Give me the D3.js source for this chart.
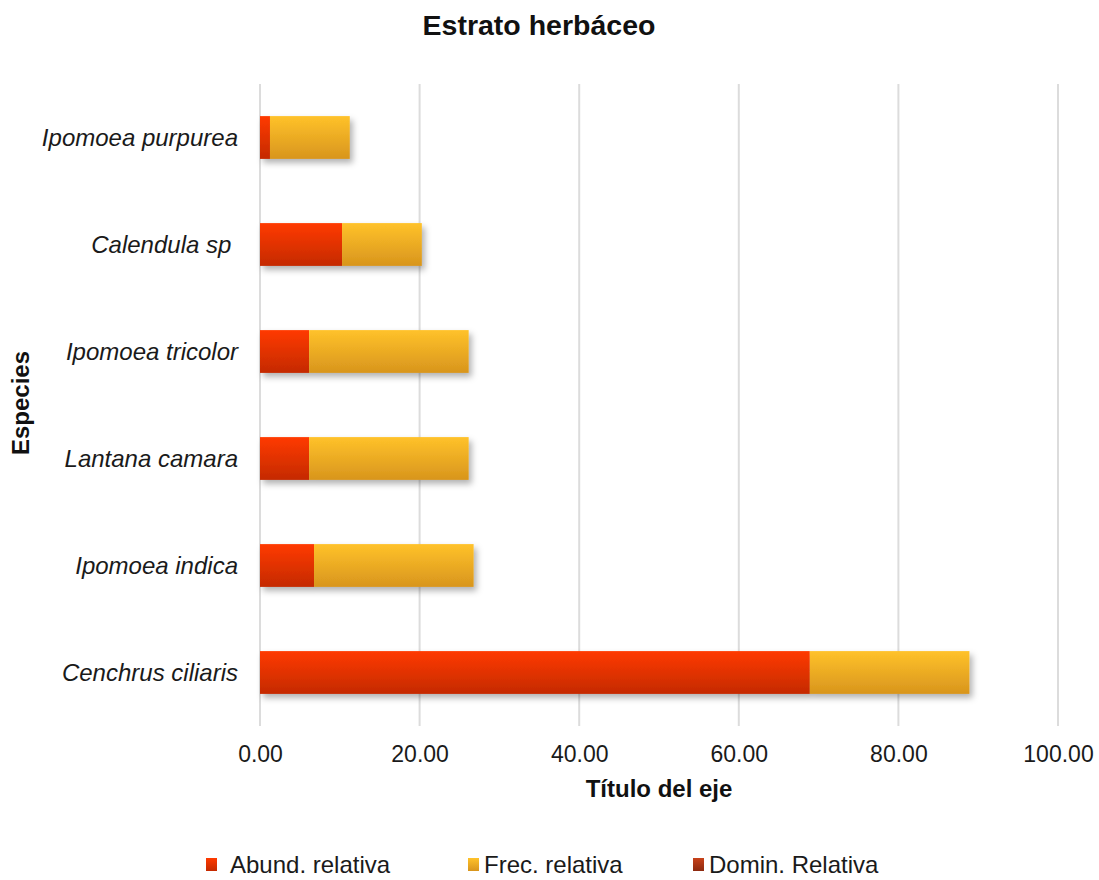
<!DOCTYPE html>
<html>
<head>
<meta charset="utf-8">
<script src="https://cdn.jsdelivr.net/npm/d3@7"></script>
<style>
  html, body { margin: 0; padding: 0; background: #ffffff; }
  svg { display: block; font-family: "Liberation Sans", Arial, sans-serif; }
</style>
</head>
<body>
<svg id="chart" width="1099" height="880"></svg>
<script>
// Species, listed top to bottom
const species = [
  "Ipomoea purpurea",
  "Calendula sp ",
  "Ipomoea tricolor",
  "Lantana camara",
  "Ipomoea indica",
  "Cenchrus ciliaris"
];

// Relative values (%) per species
const abundRelativa = [1.25, 10.28, 6.15, 6.15, 6.77, 68.90];
const frecRelativa  = [10.00, 10.00, 20.00, 20.00, 20.00, 20.00];
const dominRelativa = [0, 0, 0, 0, 0, 0];

const seriesNames = ["Abund. relativa", "Frec. relativa", "Domin. Relativa"];
const xTicks = [0, 20, 40, 60, 80, 100];

const svg = d3.select("#chart");
const defs = svg.append("defs");

// Vertical gradients for each series
const gradients = [
  { id: "g-abund", top: "#ff3a00", bottom: "#c42a00" },
  { id: "g-frec",  top: "#ffc22a", bottom: "#d8951d" },
  { id: "g-domin", top: "#c8421a", bottom: "#8c2a10" }
];
gradients.forEach(g => {
  const lg = defs.append("linearGradient")
    .attr("id", g.id).attr("x1", 0).attr("y1", 0).attr("x2", 0).attr("y2", 1);
  lg.append("stop").attr("offset", "0%").attr("stop-color", g.top);
  lg.append("stop").attr("offset", "100%").attr("stop-color", g.bottom);
});

const shadow = defs.append("filter").attr("id", "bar-shadow")
  .attr("x", "-5%").attr("y", "-20%").attr("width", "115%").attr("height", "160%");
shadow.append("feDropShadow")
  .attr("dx", 3).attr("dy", 4).attr("stdDeviation", 3)
  .attr("flood-color", "#000").attr("flood-opacity", 0.3);

const x = d3.scaleLinear().domain([0, 100]).range([260, 1058]);
const y = d3.scaleBand().domain(species).range([84, 726])
  .paddingInner(0.6).paddingOuter(0.3);

// Gridlines
svg.append("g").selectAll("line").data(xTicks).join("line")
  .attr("x1", d => x(d)).attr("x2", d => x(d))
  .attr("y1", 84).attr("y2", 726)
  .attr("stroke", "#dcdcdc").attr("stroke-width", 2);

// Stacked bars
const rows = species.map((s, i) => ({
  species: s,
  abund: abundRelativa[i],
  frec: frecRelativa[i],
  domin: dominRelativa[i]
}));
const stack = d3.stack().keys(["abund", "frec", "domin"]);
const stacked = stack(rows);
const fills = ["url(#g-abund)", "url(#g-frec)", "url(#g-domin)"];

const barsG = svg.append("g").attr("filter", "url(#bar-shadow)");
stacked.forEach((layer, k) => {
  barsG.append("g").selectAll("rect")
    .data(layer.filter(d => d[1] - d[0] > 0))
    .join("rect")
    .attr("x", d => x(d[0]))
    .attr("y", d => y(d.data.species))
    .attr("width", d => x(d[1]) - x(d[0]))
    .attr("height", y.bandwidth())
    .attr("fill", fills[k]);
});

// X axis tick labels
const xAxis = d3.axisBottom(x).tickValues(xTicks).tickFormat(d3.format(".2f")).tickSize(0).tickPadding(0);
const xg = svg.append("g").attr("transform", "translate(0,762)").call(xAxis);
xg.select(".domain").remove();
xg.selectAll("text").attr("dy", 0).attr("y", 0)
  .attr("font-size", 23).attr("fill", "#1a1a1a")
  .attr("font-family", "'Liberation Sans', Arial, sans-serif");

// Y axis category labels
const yAxis = d3.axisLeft(y).tickSize(0).tickPadding(0);
const yg = svg.append("g").attr("transform", "translate(238,0)").call(yAxis);
yg.select(".domain").remove();
yg.selectAll("text")
  .attr("x", 0).attr("dy", "0.35em")
  .attr("font-size", 24).attr("font-style", "italic").attr("fill", "#1a1a1a")
  .attr("font-family", "'Liberation Sans', Arial, sans-serif")
  .style("white-space", "pre");

// Chart title
svg.append("text")
  .attr("x", 539).attr("y", 35).attr("text-anchor", "middle")
  .attr("font-size", 28.5).attr("font-weight", "bold").attr("fill", "#111")
  .text("Estrato herbáceo");

// Axis titles
svg.append("text")
  .attr("x", 659).attr("y", 797).attr("text-anchor", "middle")
  .attr("font-size", 24).attr("font-weight", "bold").attr("fill", "#111")
  .text("Título del eje");

svg.append("text")
  .attr("transform", "translate(29,403) rotate(-90)")
  .attr("text-anchor", "middle")
  .attr("font-size", 24).attr("font-weight", "bold").attr("fill", "#111")
  .text("Especies");

// Legend
const legendX = [206, 468, 693];
const legend = svg.append("g").selectAll("g").data(seriesNames).join("g")
  .attr("transform", (d, i) => `translate(${legendX[i]},0)`);
legend.append("rect")
  .attr("x", 0).attr("y", 858).attr("width", 11).attr("height", 13)
  .attr("fill", (d, i) => fills[i]);
legend.append("text")
  .attr("x", (d, i) => i === 0 ? 24 : 16).attr("y", 873)
  .attr("font-size", 24).attr("fill", "#1a1a1a")
  .text(d => d);
</script>
</body>
</html>
